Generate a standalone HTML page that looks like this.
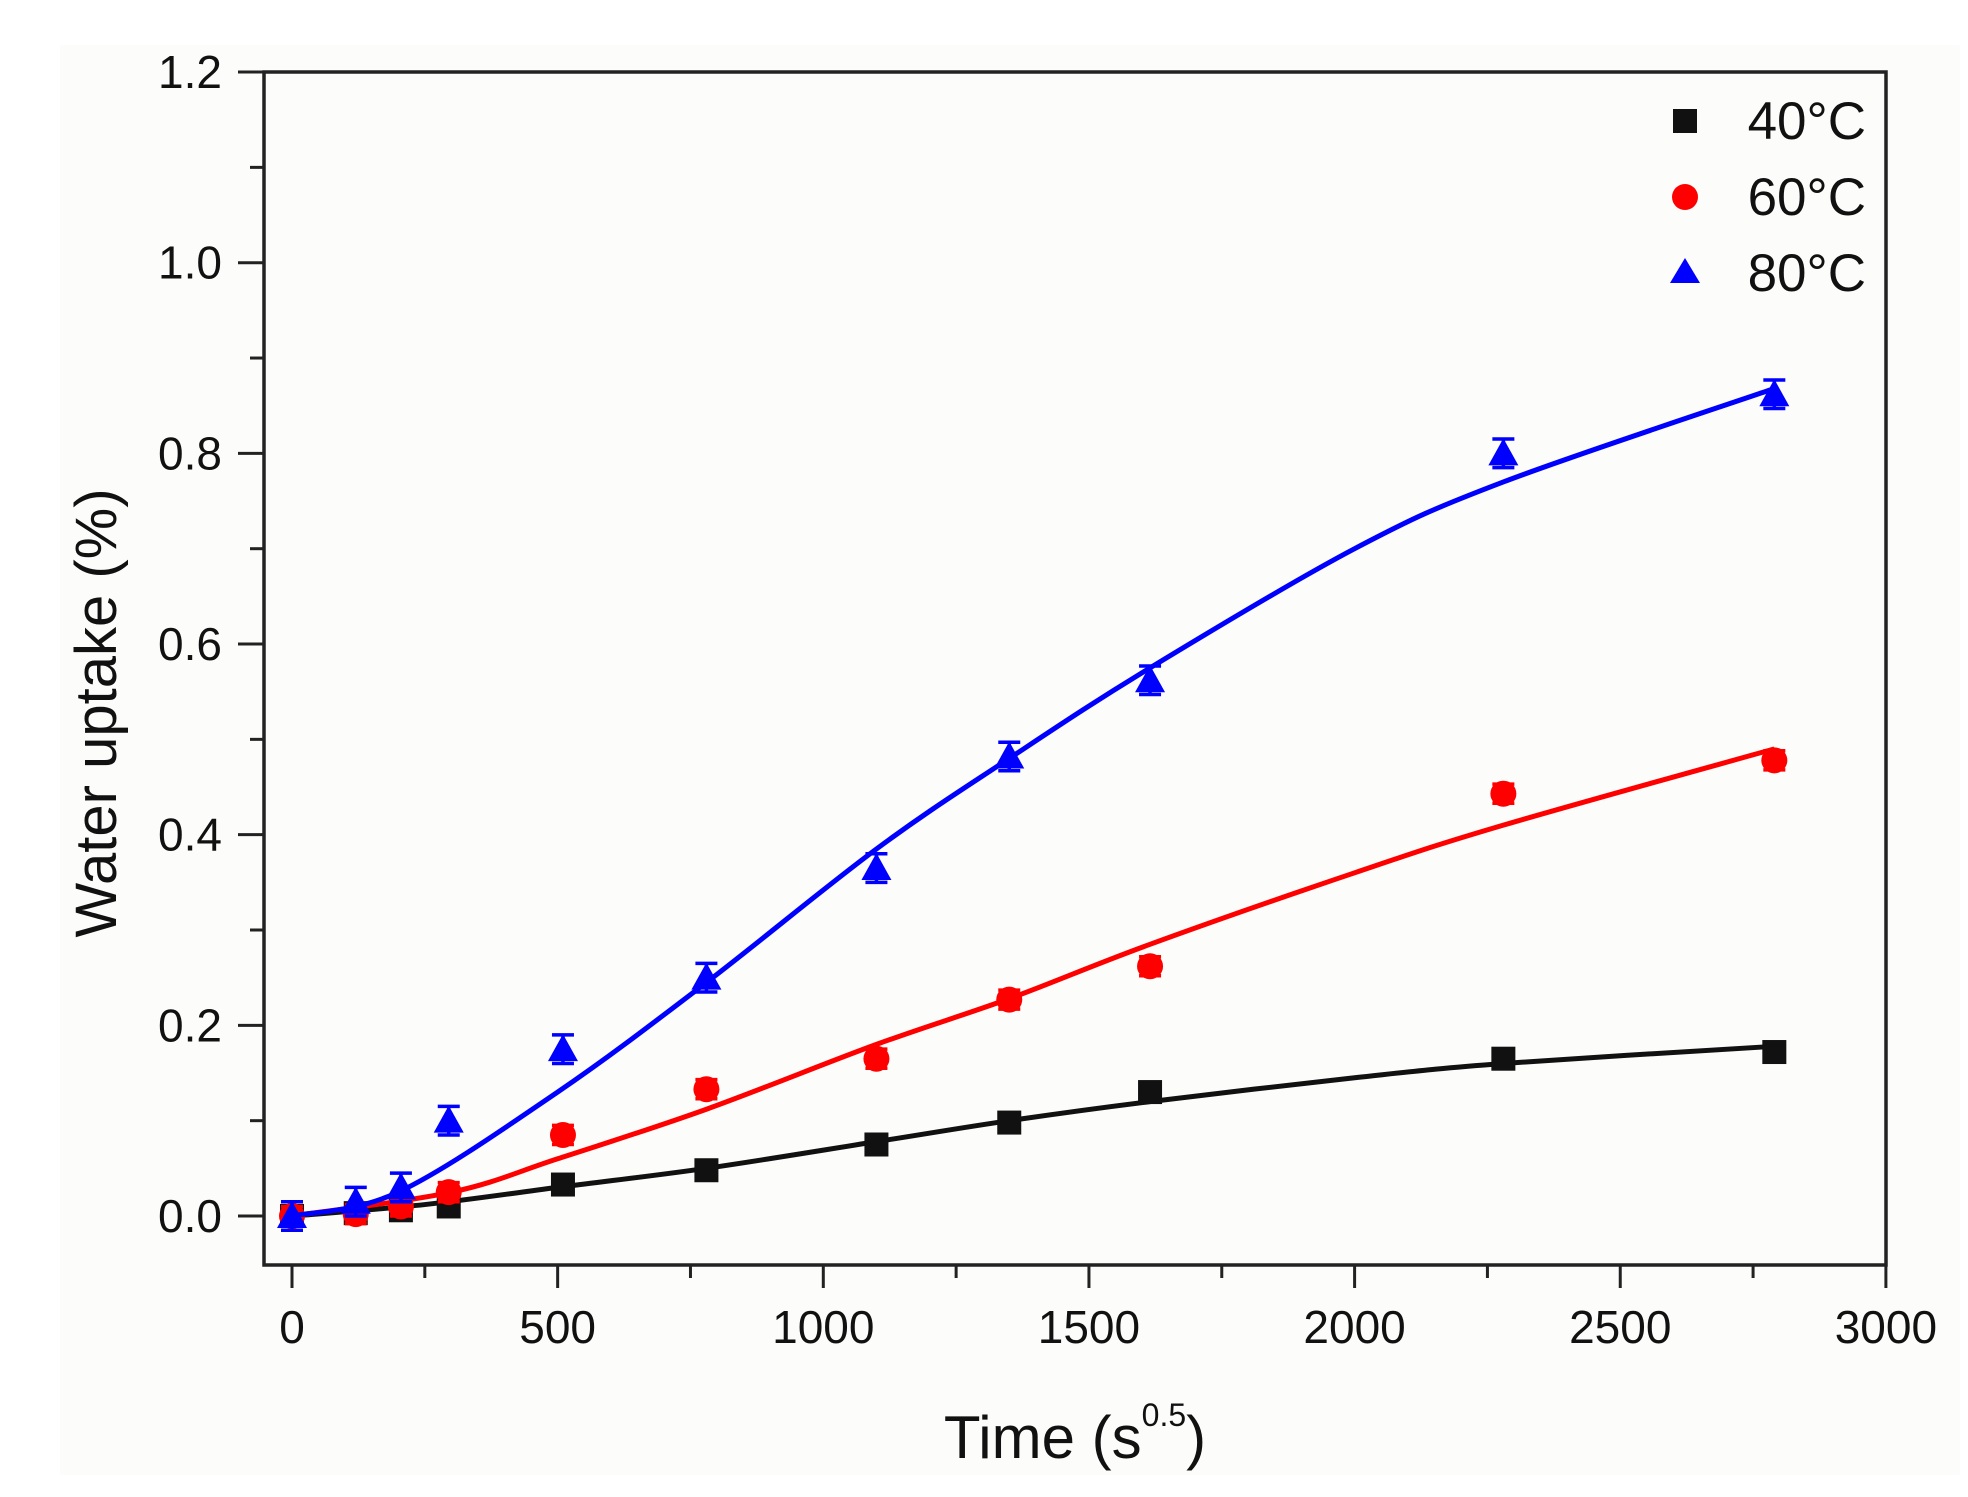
<!DOCTYPE html>
<html><head><meta charset="utf-8"><style>
html,body{margin:0;padding:0;background:#fff}
svg{display:block}
text{font-family:"Liberation Sans",sans-serif;fill:#111}
</style></head><body>
<svg id="s" width="1968" height="1497" viewBox="0 0 1968 1497" xmlns="http://www.w3.org/2000/svg">
<rect x="60" y="45" width="1900" height="1430" fill="#fcfcfa"/>
<g id="ticks"></g>
<g id="series"></g>
<rect x="264" y="72" width="1622" height="1193" fill="none" stroke="#222" stroke-width="3.5"/>
<g font-size="46" text-anchor="end" id="ylab"></g>
<g font-size="46" text-anchor="middle" id="xlab"></g>
<text x="1075" y="1458" font-size="60" text-anchor="middle">Time (s<tspan font-size="32" dy="-32">0.5</tspan><tspan dy="32">)</tspan></text>
<text transform="translate(116,713) rotate(-90)" font-size="58" text-anchor="middle">Water uptake (%)</text>
<rect x="1673" y="109" width="24" height="24" fill="#111"/>
<circle cx="1685" cy="197" r="13" fill="#f00"/>
<polygon points="1685,258 1700,283 1670,283" fill="#00f"/>
<g font-size="53" text-anchor="end">
<text x="1866" y="139">40°C</text>
<text x="1866" y="215">60°C</text>
<text x="1866" y="291">80°C</text>
</g>
</svg>
<script>
const NS="http://www.w3.org/2000/svg";
const X=v=>292+v*0.5313, Y=v=>1216-v*953.3;
function el(t,a,p){const e=document.createElementNS(NS,t);for(const k in a)e.setAttribute(k,a[k]);document.getElementById(p).appendChild(e);return e;}
for(let i=0;i<=12;i++){const y=Y(i*0.1);const L=i%2==0?26:14;
 el('line',{x1:264-L,x2:264,y1:y,y2:y,stroke:'#222','stroke-width':3},'ticks');
 if(i%2==0){const t=el('text',{x:222,y:y+16},'ylab');t.textContent=(i/10).toFixed(1);}}
for(let i=0;i<=12;i++){const x=X(i*250);const L=i%2==0?23:13;
 el('line',{x1:x,x2:x,y1:1265,y2:1265+L,stroke:'#222','stroke-width':3},'ticks');
 if(i%2==0){const t=el('text',{x:x,y:1343},'xlab');t.textContent=i*250;}}
function cr(pts){let d=`M${X(pts[0][0])},${Y(pts[0][1])}`;
 const P=pts.map(p=>[X(p[0]),Y(p[1])]);
 for(let i=0;i<P.length-1;i++){const p0=P[Math.max(0,i-1)],p1=P[i],p2=P[i+1],p3=P[Math.min(P.length-1,i+2)];
  d+=` C${p1[0]+(p2[0]-p0[0])/6},${p1[1]+(p2[1]-p0[1])/6} ${p2[0]-(p3[0]-p1[0])/6},${p2[1]-(p3[1]-p1[1])/6} ${p2[0]},${p2[1]}`;}
 return d;}
const xs=[0,120,205,295,510,780,1100,1350,1615,2280,2790];
const S=[
 {c:'#111',m:'sq',y:[0,0.003,0.006,0.01,0.033,0.048,0.075,0.098,0.13,0.165,0.172],e:0.008,
  f:[[0,0],[250,0.012],[500,0.03],[780,0.05],[1100,0.078],[1350,0.1],[1615,0.12],[2000,0.145],[2280,0.16],[2790,0.178]]},
 {c:'#f00',m:'ci',y:[0,0.002,0.01,0.025,0.085,0.133,0.165,0.227,0.262,0.443,0.478],e:0.01,
  f:[[0,0],[300,0.025],[500,0.06],[780,0.112],[1100,0.18],[1350,0.228],[1615,0.285],[2000,0.36],[2280,0.41],[2790,0.49]]},
 {c:'#00f',m:'tr',y:[0,0.015,0.03,0.1,0.175,0.25,0.365,0.482,0.562,0.8,0.862],e:0.015,
  f:[[0,0],[200,0.025],[500,0.13],[780,0.245],[1100,0.385],[1350,0.48],[1615,0.575],[2000,0.7],[2280,0.77],[2790,0.868]]}];
for(const s of S){
 el('path',{d:cr(s.f),fill:'none',stroke:s.c,'stroke-width':5},'series');
 s.y.forEach((v,i)=>{const x=X(xs[i]),y=Y(v),e=s.e*953.3;
  el('line',{x1:x,x2:x,y1:y-e,y2:y+e,stroke:s.c,'stroke-width':3.5},'series');
  el('line',{x1:x-11,x2:x+11,y1:y-e,y2:y-e,stroke:s.c,'stroke-width':3.5},'series');
  el('line',{x1:x-11,x2:x+11,y1:y+e,y2:y+e,stroke:s.c,'stroke-width':3.5},'series');
  if(s.m=='sq')el('rect',{x:x-12,y:y-12,width:24,height:24,fill:s.c},'series');
  else if(s.m=='ci')el('circle',{cx:x,cy:y,r:13,fill:s.c},'series');
  else el('polygon',{points:`${x},${y-15} ${x+15},${y+12} ${x-15},${y+12}`,fill:s.c},'series');
 });}
</script>
</body></html>
